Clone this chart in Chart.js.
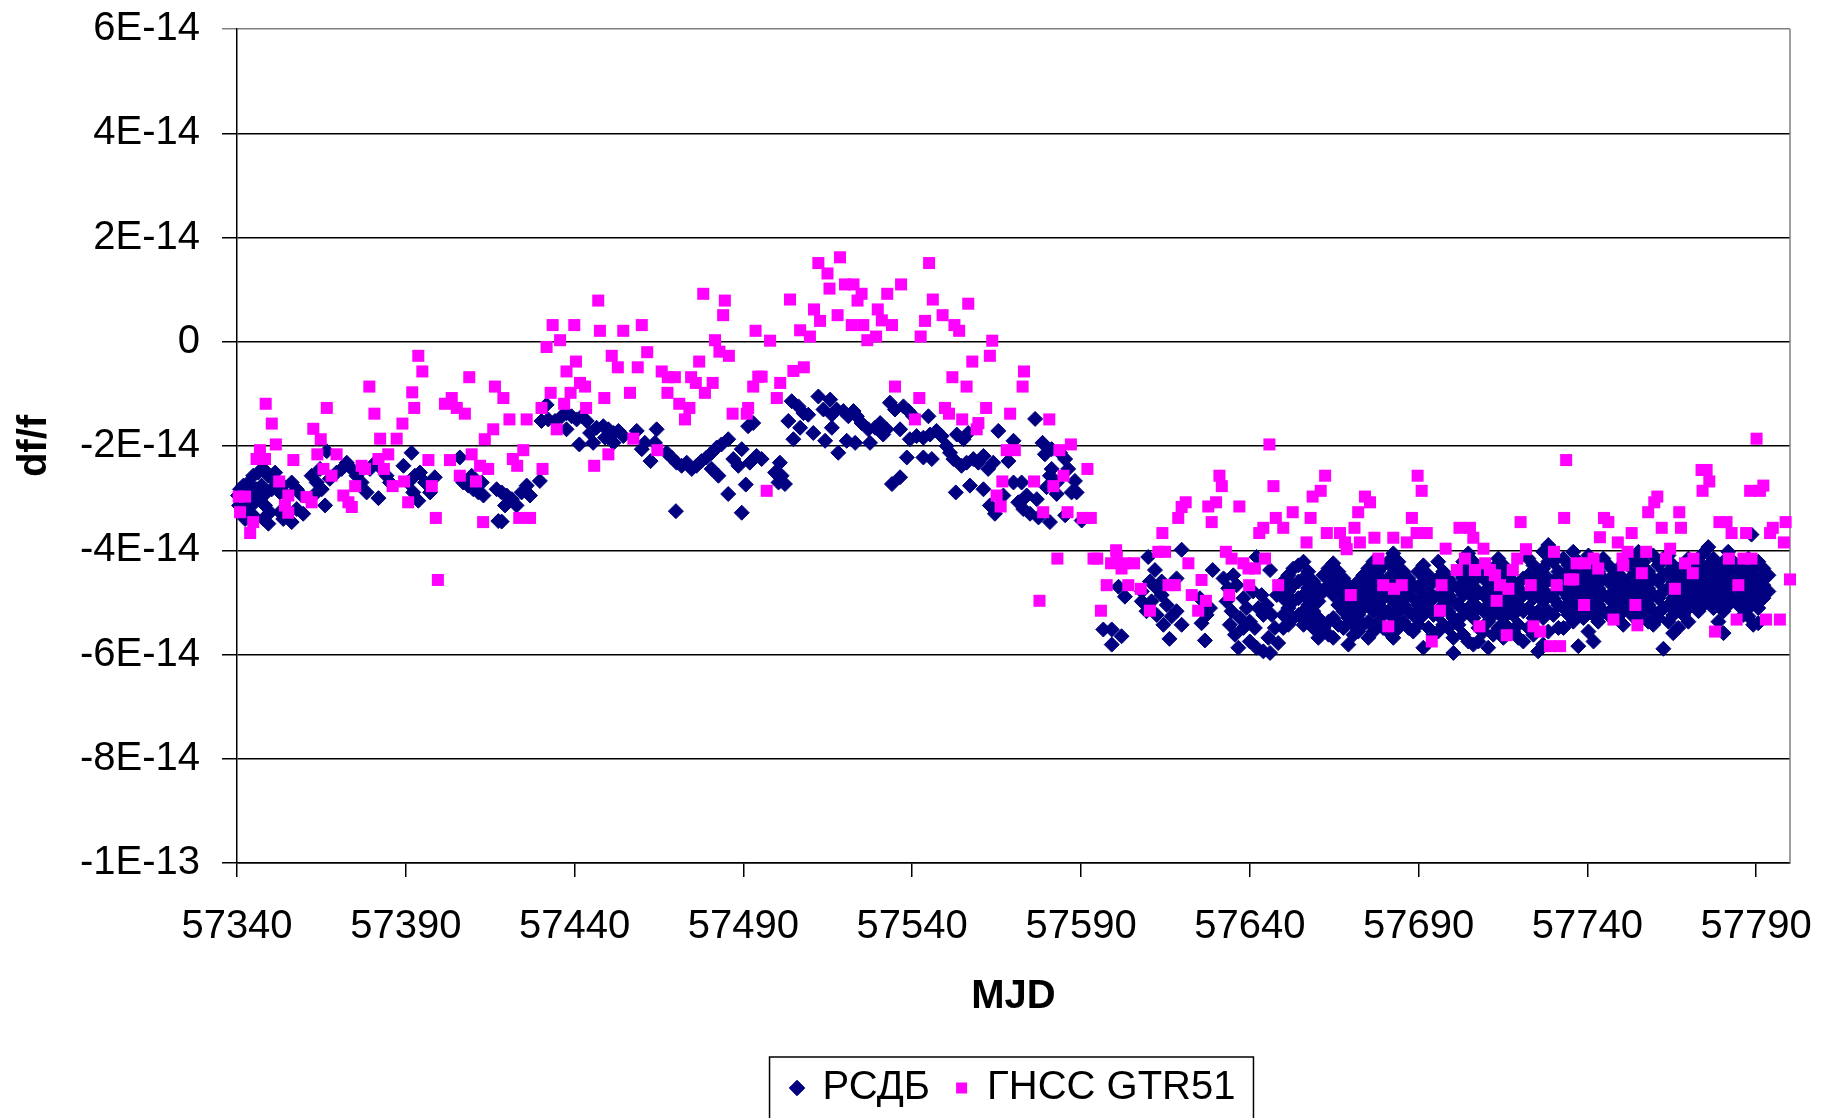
<!DOCTYPE html>
<html>
<head>
<meta charset="utf-8">
<script src="https://cdn.jsdelivr.net/npm/chart.js@4/dist/chart.umd.min.js"></script>
<style>
  html, body { margin: 0; padding: 0; background: #fff; }
</style>
</head>
<body>
<canvas id="chart" width="1822" height="1118"></canvas>
<script>
// legend names
var seriesNames = ['РСДБ', 'ГНСС GTR51'];

// axis ticks (x = MJD, y = df/f in units of 1E-14)
var xTicks = [57340, 57390, 57440, 57490, 57540, 57590, 57640, 57690, 57740, 57790];
var yTicks = [-10, -8, -6, -4, -2, 0, 2, 4, 6];
var yTickLabels = ['-1E-13', '-8E-14', '-6E-14', '-4E-14', '-2E-14', '0', '2E-14', '4E-14', '6E-14'];

// РСДБ, [MJD, df/f (E-14)]
var rsdbPoints = [
  [57340.3,-2.95],[57340.6,-3.14],[57340.9,-2.83],[57341.9,-2.76],[57343.4,-2.70],[57344.8,-2.57],[57346.3,-2.51],[57347.8,-2.44],
  [57349.3,-2.57],[57342.9,-2.95],[57344.3,-2.89],[57345.8,-2.83],[57347.3,-2.76],[57348.8,-2.89],[57350.3,-2.83],[57341.9,-3.21],
  [57343.4,-3.14],[57345.3,-3.08],[57346.8,-3.02],[57348.3,-3.14],[57349.8,-3.27],[57342.4,-3.40],[57344.8,-3.33],[57347.8,-3.40],
  [57349.3,-3.49],[57351.3,-2.51],[57351.7,-2.70],[57352.7,-2.89],[57353.7,-2.76],[57354.7,-2.95],[57356.2,-2.70],[57357.7,-2.83],
  [57359.2,-2.95],[57359.6,-3.30],[57356.2,-3.46],[57353.7,-3.40],[57357.7,-3.21],[57352.7,-3.27],[57362.1,-2.57],[57363.6,-2.70],
  [57365.1,-2.83],[57366.6,-2.10],[57366.1,-3.14],[57363.6,-2.89],[57364.6,-2.44],[57367.5,-2.63],[57369.5,-2.51],[57371.0,-2.44],
  [57372.5,-2.32],[57374.0,-2.44],[57375.4,-2.57],[57376.9,-2.70],[57378.4,-2.89],[57379.4,-2.44],[57380.9,-2.32],[57381.9,-3.00],
  [57382.9,-2.44],[57384.3,-2.57],[57385.3,-2.70],[57389.3,-2.38],[57391.7,-2.13],[57390.7,-2.70],[57392.7,-2.57],[57394.2,-2.51],
  [57395.7,-2.70],[57397.2,-2.89],[57398.6,-2.60],[57393.7,-3.05],[57392.2,-2.89],[57406.0,-2.22],[57407.0,-2.70],[57408.5,-2.76],
  [57410.0,-2.83],[57411.5,-2.89],[57413.0,-2.95],[57409.5,-2.57],[57412.5,-2.70],[57416.9,-2.83],[57417.4,-3.44],
  [57418.4,-2.89],[57419.9,-2.95],[57419.4,-3.14],[57421.4,-3.02],[57422.8,-3.14],[57424.3,-2.89],[57425.8,-2.76],[57426.8,-2.95],
  [57418.4,-3.45],[57429.7,-2.67],[57431.7,-1.21],[57430.2,-1.52],[57432.2,-1.49],[57434.2,-1.52],[57436.2,-1.43],[57437.6,-1.37],
  [57439.1,-1.43],[57440.6,-1.49],[57442.1,-1.43],[57443.6,-1.52],[57437.6,-1.68],[57441.4,-1.97],[57444.6,-1.75],[57446.5,-1.65],
  [57448.5,-1.62],[57450.0,-1.68],[57451.5,-1.75],[57453.0,-1.71],[57454.4,-1.81],[57449.0,-1.84],[57451.5,-1.94],[57445.5,-1.94],
  [57458.4,-1.71],[57459.9,-2.06],[57460.8,-1.94],[57462.5,-2.29],[57464.3,-1.68],[57463.8,-1.94],[57467.3,-2.13],[57468.7,-2.22],
  [57470.2,-2.32],[57471.7,-2.38],[57473.2,-2.32],[57474.7,-2.44],[57476.1,-2.38],[57477.6,-2.29],[57479.1,-2.22],[57480.6,-2.13],
  [57482.1,-2.03],[57483.5,-1.97],[57485.5,-1.87],[57480.6,-2.44],[57482.6,-2.57],[57470.0,-3.25],[57485.5,-2.92],[57489.5,-3.28],
  [57490.7,-2.74],[57489.5,-2.06],[57487.0,-2.25],[57488.5,-2.38],[57491.9,-2.32],[57493.9,-2.19],[57491.4,-1.62],[57492.9,-1.56],
  [57495.4,-2.25],[57499.4,-2.51],[57500.8,-2.32],[57501.3,-2.57],[57502.3,-2.73],[57500.4,-2.70],[57504.3,-1.14],[57503.3,-1.52],
  [57506.3,-1.24],[57507.8,-1.37],[57506.8,-1.65],[57504.8,-1.87],[57509.2,-1.40],[57510.7,-1.75],[57512.2,-1.05],[57513.7,-1.30],
  [57515.7,-1.11],[57516.2,-1.40],[57514.2,-1.90],[57516.2,-1.65],[57518.1,-2.13],[57517.6,-1.30],[57519.6,-1.33],[57521.1,-1.43],
  [57522.6,-1.33],[57523.6,-1.43],[57520.6,-1.90],[57523.1,-1.94],[57525.0,-1.56],[57527.5,-1.94],[57527.0,-1.68],[57529.0,-1.65],
  [57530.5,-1.56],[57531.4,-1.78],[57532.4,-1.68],[57533.4,-1.17],[57534.9,-1.30],[57536.4,-1.68],[57537.4,-1.24],[57538.9,-1.33],
  [57540.3,-1.43],[57544.8,-1.43],[57538.4,-2.22],[57539.3,-1.87],[57543.3,-2.22],[57545.8,-2.25],[57534.0,-2.73],[57536.4,-2.60],
  [57541.3,-1.81],[57543.3,-1.84],[57545.3,-1.78],[57547.2,-1.71],[57548.7,-1.81],[57550.2,-2.00],[57551.2,-2.13],[57552.2,-2.25],
  [57553.2,-1.78],[57555.2,-1.87],[57556.6,-1.75],[57554.6,-2.38],[57556.1,-2.32],[57558.1,-2.25],[57559.6,-2.32],[57561.1,-2.19],
  [57562.5,-2.44],[57564.0,-2.32],[57565.5,-1.71],[57568.5,-2.29],[57570.0,-1.90],[57557.1,-2.76],[57552.9,-2.89],[57561.1,-2.83],
  [57563.0,-3.14],[57564.5,-3.30],[57567.0,-2.95],[57570.0,-2.70],[57571.4,-3.08],
  [57572.4,-2.70],[57572.9,-3.02],[57576.4,-1.48],[57578.6,-1.94],[57579.3,-2.16],[57581.3,-2.06],[57583.8,-2.13],[57585.3,-2.25],
  [57581.3,-2.44],[57580.8,-2.57],[57582.8,-2.70],[57579.8,-2.79],[57582.8,-2.92],[57586.2,-2.44],[57588.2,-2.67],[57587.2,-2.89],
  [57588.7,-2.89],[57573.9,-2.95],[57571.9,-3.08],[57572.9,-3.21],[57574.9,-3.30],[57576.9,-3.02],[57577.4,-3.37],[57580.8,-3.46],
  [57585.3,-3.33],[57590.2,-3.43],[57596.6,-5.52],[57599.1,-5.52],[57599.1,-5.81],[57602.0,-5.65],[57601.1,-4.70],[57603.0,-4.89],
  [57609.9,-4.13],[57611.9,-4.38],[57610.4,-4.60],[57608.0,-4.79],[57608.0,-4.98],[57609.4,-5.17],[57610.9,-4.98],[57612.4,-4.73],
  [57613.9,-4.60],[57613.9,-4.86],[57615.4,-5.05],[57612.4,-5.24],[57614.4,-5.43],[57616.8,-5.27],[57618.3,-5.17],[57619.8,-5.43],
  [57616.2,-5.70],[57619.8,-3.99],[57618.3,-4.54],[57625.2,-4.92],[57625.7,-5.40],[57627.2,-5.24],[57628.2,-5.11],[57626.7,-5.73],
  [57629.0,-4.38],[57632.2,-4.54],[57633.6,-4.73],[57635.1,-4.48],[57636.1,-4.67],[57633.1,-4.98],[57634.6,-5.17],[57634.1,-5.43],
  [57635.6,-5.62],[57636.6,-5.87],[57638.1,-4.92],[57639.1,-5.11],[57640.0,-5.37],[57641.5,-5.49],[57642.0,-5.87],[57644.0,-5.94],
  [57646.0,-5.97],[57643.5,-4.86],[57645.0,-5.05],[57646.5,-5.24],[57644.0,-5.24],[57648.0,-4.86],[57647.4,-5.49],[57645.5,-5.68],
  [57642.0,-4.13],[57646.0,-4.38],[57640.0,-5.75],[57638.1,-5.49],[57648.4,-5.78],[57637.1,-5.30],[57642.5,-5.11],[57641.0,-4.79],
  [57788.6,-3.70]
];

// РСДБ dense stretch: [MJD, [df/f values stacked on that day]]
var rsdbColumns = [
  [57649.9,[-4.60,-4.92,-5.24,-5.49]],[57651.4,[-4.48,-4.79,-5.11,-5.43]],[57652.9,[-4.35,-4.67,-4.98,-5.30]],
  [57654.4,[-4.29,-4.60,-4.92,-5.24]],[57655.9,[-4.22,-4.54,-4.86,-5.17,-5.43]],[57657.3,[-4.41,-4.73,-5.05,-5.30]],
  [57658.8,[-4.60,-4.86,-5.17,-5.49]],[57660.3,[-4.73,-4.98,-5.30,-5.68]],[57661.8,[-4.48,-4.79,-5.49]],
  [57663.3,[-4.35,-4.67,-5.37,-5.62]],[57664.7,[-4.25,-4.54,-4.86,-5.30,-5.68]],[57666.2,[-4.41,-4.73,-5.05,-5.43]],
  [57667.7,[-4.54,-4.86,-5.17,-5.49]],[57669.2,[-4.67,-4.98,-5.30,-5.81]],[57670.7,[-4.79,-5.11,-5.43,-5.62]],
  [57672.1,[-4.60,-4.92,-5.24,-5.56]],[57673.6,[-4.48,-4.79,-5.11,-5.43]],[57675.1,[-4.35,-4.67,-4.98,-5.37,-5.68]],
  [57676.6,[-4.22,-4.54,-4.86,-5.17,-5.56]],[57678.1,[-4.41,-4.73,-5.05,-5.37]],[57679.5,[-4.29,-4.60,-4.92,-5.24,-5.49]],
  [57681.0,[-4.22,-4.54,-4.86,-5.17,-5.56]],[57682.5,[-4.06,-4.35,-4.67,-4.98,-5.30,-5.68]],[57684.0,[-4.22,-4.54,-4.86,-5.17,-5.49]],
  [57685.5,[-4.41,-4.73,-5.05,-5.37]],[57687.0,[-4.54,-4.86,-5.17,-5.49]],[57688.4,[-4.67,-4.92,-5.24,-5.56]],
  [57689.9,[-4.41,-4.73,-5.05,-5.43]],[57691.4,[-4.29,-4.60,-4.92,-5.24,-5.87]],[57692.9,[-4.48,-4.79,-5.11,-5.49]],
  [57694.4,[-4.60,-4.92,-5.24,-5.62]],[57695.8,[-4.22,-4.54,-4.86,-5.24,-5.56]],[57697.3,[-4.41,-4.73,-5.05,-5.43]],
  [57698.8,[-4.54,-4.86,-5.17,-5.49]],[57700.3,[-4.67,-4.98,-5.30,-5.68,-5.97]],[57701.8,[-4.41,-4.73,-5.05,-5.43]],
  [57703.2,[-4.22,-4.54,-4.86,-5.24,-5.62]],[57704.7,[-4.06,-4.41,-4.73,-5.11,-5.75]],[57706.2,[-4.22,-4.60,-4.92,-5.30,-5.81]],
  [57707.7,[-4.41,-4.79,-5.11,-5.49,-5.75]],[57709.2,[-4.54,-4.86,-5.17,-5.56]],[57710.6,[-4.73,-5.05,-5.37,-5.87]],
  [57712.1,[-4.35,-4.60,-4.92,-5.24,-5.62]],[57713.6,[-4.16,-4.48,-4.79,-5.11,-5.49]],[57715.1,[-4.29,-4.60,-4.92,-5.30,-5.68]],
  [57716.6,[-4.48,-4.79,-5.11,-5.49]],[57718.0,[-4.60,-4.92,-5.24,-5.56]],[57719.5,[-4.73,-5.05,-5.43,-5.68]],
  [57721.0,[-4.54,-4.86,-5.17,-5.75]],[57722.5,[-4.16,-4.48,-4.79,-5.11,-5.49]],[57724.0,[-4.29,-4.60,-4.92,-5.30,-5.62]],
  [57725.4,[-4.48,-4.79,-5.17,-5.94]],
  [57726.9,[-4.03,-4.35,-4.67,-4.98,-5.30,-5.81]],[57728.4,[-3.90,-4.22,-4.54,-4.86,-5.17,-5.56]],[57729.9,[-4.22,-4.60,-4.92,-5.24]],
  [57731.4,[-4.41,-4.73,-5.05,-5.49]],[57732.9,[-4.16,-4.48,-4.79,-5.11,-5.49]],[57734.4,[-4.29,-4.60,-4.92,-5.24]],
  [57735.8,[-4.03,-4.41,-4.73,-5.05,-5.37]],[57737.3,[-4.22,-4.54,-4.86,-5.17,-5.84]],[57738.8,[-4.35,-4.67,-4.98,-5.30]],
  [57740.3,[-4.10,-4.48,-4.79,-5.11,-5.56]],[57741.8,[-4.29,-4.60,-4.92,-5.24,-5.75]],[57743.2,[-4.41,-4.73,-5.05,-5.37]],
  [57744.7,[-4.16,-4.54,-4.86,-5.17]],[57746.2,[-4.29,-4.60,-4.92,-5.24]],[57747.7,[-4.48,-4.79,-5.11]],
  [57749.2,[-4.35,-4.67,-4.98,-5.24]],[57750.6,[-4.54,-4.86,-5.17,-5.43]],[57752.1,[-4.29,-4.67,-4.98]],
  [57753.6,[-4.16,-4.48,-4.79,-5.11,-5.27]],[57755.1,[-4.03,-4.35,-4.67,-4.98,-5.37]],[57756.6,[-4.22,-4.54,-4.86,-5.17]],
  [57758.0,[-4.41,-4.73,-5.05,-5.37]],[57759.5,[-4.10,-4.54,-4.86,-5.17,-5.43]],[57761.0,[-4.29,-4.60,-4.92,-5.30]],
  [57762.5,[-4.16,-4.48,-4.79,-5.11,-5.89]],[57764.0,[-4.10,-4.41,-4.73,-5.05,-5.37]],[57765.4,[-4.29,-4.60,-4.92,-5.24,-5.59]],
  [57766.9,[-4.48,-4.79,-5.11,-5.49]],[57768.4,[-4.29,-4.60,-4.92,-5.24]],[57769.9,[-4.16,-4.48,-4.79,-5.11,-5.37]],
  [57771.4,[-4.35,-4.67,-4.98]],[57772.9,[-4.22,-4.54,-4.86,-5.17]],[57774.3,[-4.06,-4.41,-4.73,-5.05]],
  [57775.8,[-3.94,-4.29,-4.60,-4.92]],[57777.3,[-4.16,-4.48,-4.79,-5.11]],[57778.8,[-4.35,-4.67,-4.98,-5.37]],
  [57780.3,[-4.22,-4.54,-4.86,-5.17,-5.59]],[57781.7,[-4.03,-4.41,-4.73,-5.05]],[57783.2,[-4.22,-4.60,-4.92]],
  [57784.7,[-4.41,-4.73,-5.05]],[57786.2,[-4.29,-4.60,-4.92,-5.24]],[57787.7,[-4.16,-4.48,-4.79,-5.11,-5.27]],
  [57789.1,[-4.35,-4.67,-4.98,-5.43]],[57790.6,[-4.22,-4.54,-4.86,-5.11,-5.40]],[57792.1,[-4.35,-4.67,-4.92]],
  [57793.6,[-4.48,-4.79]]
];

// ГНСС GTR51, [MJD, df/f (E-14)]
var gnssPoints = [
  [57348.5,-1.19],[57350.3,-1.57],[57351.5,-1.97],[57346.8,-2.08],[57345.8,-2.25],[57348.3,-2.25],[57356.7,-2.27],[57352.5,-2.68],
  [57340.5,-2.97],[57342.4,-2.97],[57340.9,-3.27],[57344.8,-3.46],[57343.9,-3.67],[57355.2,-2.95],[57354.2,-3.14],[57355.2,-3.28],
  [57360.6,-2.98],[57362.1,-3.08],[57362.6,-1.67],[57364.8,-1.87],[57366.6,-1.27],[57363.8,-2.16],[57365.6,-2.44],[57368.0,-2.57],
  [57369.5,-2.16],[57371.5,-2.95],[57373.0,-3.08],[57374.0,-3.17],[57375.0,-2.77],[57376.9,-2.38],[57377.9,-2.44],[57379.2,-0.86],
  [57380.7,-1.38],[57382.4,-1.86],[57381.9,-2.25],[57383.5,-2.44],[57384.8,-2.16],[57386.1,-2.77],[57387.3,-1.86],[57389.0,-1.57],
  [57389.5,-2.68],[57390.7,-3.08],[57391.9,-0.97],[57392.5,-1.27],[57393.7,-0.27],[57394.9,-0.57],[57396.7,-2.27],[57397.7,-2.77],
  [57398.9,-3.38],[57399.5,-4.57],[57401.6,-1.19],[57403.6,-1.08],[57405.1,-1.27],[57407.5,-1.38],[57408.8,-0.68],[57403.1,-2.27],
  [57406.0,-2.57],[57409.5,-2.16],[57410.8,-2.68],[57412.0,-2.38],[57414.4,-2.44],[57413.4,-1.87],[57415.9,-1.68],[57416.4,-0.86],
  [57412.9,-3.46],
  [57418.9,-1.08],[57420.7,-1.49],[57425.8,-1.49],[57424.8,-2.08],[57421.7,-2.25],[57423.0,-2.38],[57430.5,-2.44],[57423.6,-3.38],
  [57426.8,-3.38],[57430.2,-1.27],[57431.7,-0.10],[57433.5,0.32],[57435.7,0.03],[57439.9,0.32],[57437.6,-0.57],[57440.4,-0.38],
  [57432.9,-0.98],[57438.8,-0.98],[57436.9,-1.19],[57441.6,-0.79],[57443.1,-0.86],[57443.4,-1.27],[57434.7,-1.68],[57447.0,0.79],
  [57447.5,0.21],[57448.8,-1.08],[57451.0,-0.27],[57452.8,-0.49],[57454.4,0.21],[57459.9,0.32],[57461.5,-0.20],[57458.7,-0.49],
  [57456.4,-0.98],[57445.8,-2.38],[57450.0,-2.16],[57457.4,-1.86],[57464.5,-2.08],[57465.8,-0.57],[57467.6,-0.68],[57469.7,-0.68],
  [57467.5,-0.98],[57471.0,-1.19],[57474.0,-1.27],[57472.7,-1.49],[57474.5,-0.68],[57475.9,-0.79],[57476.9,-0.38],[57478.6,-0.98],
  [57480.9,-0.79],[57478.1,0.92],[57484.5,0.79],[57484.0,0.51],[57481.6,0.03],[57482.9,-0.19],[57485.7,-0.27],[57486.8,-1.38],
  [57491.0,-1.38],[57491.4,-1.27],[57492.9,-0.86],[57493.6,0.21],[57494.4,-0.67],
  [57497.9,0.02],[57495.4,-0.67],[57500.9,-0.79],[57499.9,-1.08],[57503.8,0.81],[57504.8,-0.56],[57507.9,-0.49],[57506.8,0.22],
  [57509.7,0.10],[57510.9,0.62],[57512.7,0.40],[57512.2,1.51],[57514.9,1.31],[57515.5,1.02],[57518.6,1.62],[57517.9,0.51],
  [57520.1,1.10],[57522.6,1.10],[57525.0,0.92],[57523.8,0.79],[57522.1,0.32],[57525.5,0.32],[57526.7,0.03],[57529.3,0.10],
  [57529.8,0.62],[57531.0,0.41],[57534.0,0.32],[57532.6,0.92],[57536.7,1.10],[57534.9,-0.86],[57542.1,-1.08],[57542.5,0.10],
  [57543.8,0.40],[57545.0,1.51],[57546.1,0.81],[57549.0,0.51],[57552.5,0.32],[57553.9,0.21],[57556.6,0.73],[57540.8,-1.49],
  [57549.7,-1.27],[57550.9,-1.38],[57551.9,-0.68],[57554.8,-1.49],[57556.1,-0.86],[57557.8,-0.38],[57559.1,-1.68],[57559.6,-1.56],
  [57561.9,-1.27],[57563.0,-0.27],[57563.7,0.02],[57569.0,-1.38],[57568.0,-2.08],[57570.4,-2.08],[57566.7,-2.68],[57565.0,-2.95],
  [57566.2,-3.16],[57496.9,-2.86],
  [57573.1,-0.57],[57572.7,-0.86],[57580.6,-1.49],[57583.6,-2.08],[57587.0,-1.97],[57591.9,-2.44],[57576.1,-2.68],[57584.8,-2.57],
  [57581.8,-2.77],[57578.8,-3.27],[57586.0,-3.27],[57590.5,-3.38],[57592.9,-3.38],[57583.0,-4.16],[57577.7,-4.97],[57593.7,-4.16],
  [57594.8,-4.16],[57595.9,-5.16],[57597.6,-4.67],[57598.9,-4.25],[57600.4,-4.00],[57600.6,-4.13],[57602.0,-4.35],[57603.0,-4.25],
  [57605.7,-4.25],[57604.0,-4.67],[57607.7,-4.74],[57610.4,-5.16],[57614.1,-3.67],[57612.9,-4.03],[57614.9,-4.03],[57615.9,-4.67],
  [57617.8,-4.67],[57618.8,-3.38],[57619.8,-3.17],[57621.0,-3.08],[57621.8,-4.25],[57622.8,-4.86],[57624.7,-5.16],[57625.7,-4.57],
  [57627.0,-4.97],[57627.7,-3.16],[57628.7,-3.46],[57630.0,-3.08],[57631.0,-2.57],[57631.7,-2.77],[57632.9,-4.03],[57633.9,-4.86],
  [57634.6,-4.16],[57636.9,-3.16],[57638.1,-4.25],[57639.6,-4.35],[57639.8,-4.67],[57641.5,-4.35],[57642.8,-3.67],[57644.0,-3.57],
  [57644.5,-4.16],[57645.8,-1.97],[57647.0,-2.77],[57647.7,-3.38],[57648.4,-4.67],
  [57649.9,-3.57],[57652.7,-3.27],[57656.8,-3.85],[57658.0,-3.38],[57658.6,-2.97],[57661.0,-2.86],[57662.3,-2.57],[57662.8,-3.67],
  [57666.7,-3.67],[57668.2,-3.85],[57668.7,-3.98],[57669.9,-4.86],[57671.0,-3.57],[57672.1,-3.27],[57672.6,-3.85],[57674.1,-2.97],
  [57675.6,-3.08],[57676.9,-3.76],[57678.1,-4.16],[57679.5,-4.67],[57681.0,-5.46],[57682.5,-3.76],[57682.7,-4.74],[57685.0,-4.67],
  [57686.5,-3.85],[57688.0,-3.38],[57689.7,-2.57],[57690.9,-2.86],[57689.4,-3.67],[57692.4,-3.67],[57693.9,-5.75],[57696.3,-5.16],
  [57696.8,-4.67],[57698.0,-3.97],[57701.3,-4.38],[57702.1,-3.57],[57703.7,-4.16],[57705.2,-3.57],[57706.2,-3.76],[57706.7,-4.38],
  [57708.0,-5.46],[57709.2,-3.97],[57709.7,-4.25],[57711.1,-4.38],[57712.6,-4.48],[57713.1,-4.97],[57714.1,-4.67],[57716.1,-5.63],
  [57716.6,-4.74],[57717.9,-4.38],[57719.2,-4.16],[57720.2,-3.46],[57721.8,-3.98],[57723.2,-4.67],[57724.0,-5.46],
  [57733.7,-2.27],[57733.1,-3.38],[57730.1,-4.03],[57730.9,-4.67],[57735.8,-4.56],[57734.8,-4.56],[57736.8,-4.25],[57739.3,-4.25],
  [57741.8,-4.16],[57743.2,-4.35],[57739.0,-5.05],[57726.0,-5.56],[57728.9,-5.84],[57731.9,-5.84],[57743.7,-3.75],[57744.9,-3.38],
  [57746.2,-3.46],[57747.7,-5.33],[57749.0,-3.85],[57750.4,-4.16],[57750.6,-4.29],[57751.9,-4.03],[57753.1,-3.67],[57754.2,-5.05],
  [57754.8,-5.44],[57756.1,-4.44],[57757.4,-4.03],[57758.0,-3.27],[57759.8,-3.08],[57760.7,-2.97],[57762.0,-3.57],[57763.3,-4.16],
  [57764.5,-3.97],[57765.9,-4.74],[57767.2,-3.27],[57767.7,-3.57],[57768.9,-4.25],[57771.4,-4.16],[57771.2,-4.44],[57773.8,-2.46],
  [57775.3,-2.46],[57776.1,-2.68],[57774.1,-2.86],[57777.8,-5.56],[57779.1,-3.46],[57781.2,-3.46],[57782.7,-3.67],[57781.9,-4.16],
  [57784.2,-5.33],[57784.7,-4.67],[57786.2,-4.16],[57787.0,-3.67],[57788.6,-4.16],[57788.2,-2.86],[57790.1,-1.86],[57791.1,-2.86],
  [57792.1,-2.76],[57792.9,-5.33],[57794.1,-3.67],[57794.9,-3.57],[57797.0,-5.33],[57798.2,-3.85],[57798.7,-3.46],[57800.0,-4.56]
];

// flatten into {x, y} for Chart.js
var rsdbData = rsdbPoints.map(p => ({ x: p[0], y: p[1] }));
rsdbColumns.forEach(c => c[1].forEach(v => rsdbData.push({ x: c[0], y: v })));
var gnssData = gnssPoints.map(p => ({ x: p[0], y: p[1] }));

Chart.defaults.font.family = "'Liberation Sans', Arial, sans-serif";
Chart.defaults.color = '#000';

// grey right edge of the plot area and the box round the legend
var framePlugin = {
  id: 'frame',
  beforeDatasetsDraw(chart) {
    var ctx = chart.ctx, a = chart.chartArea;
    ctx.save();
    ctx.strokeStyle = '#808080';
    ctx.lineWidth = 1.5;
    ctx.beginPath();
    ctx.moveTo(a.right, a.top);
    ctx.lineTo(a.right, a.bottom);
    ctx.stroke();
    ctx.restore();
  },
  afterDraw(chart) {
    var hb = chart.legend.legendHitBoxes;
    if (!hb || !hb.length) return;
    var ctx = chart.ctx;
    var first = hb[0], last = hb[hb.length - 1];
    var left = first.left - 22;
    var right = last.left + last.width + 18;
    var top = first.top - 11;
    ctx.save();
    ctx.strokeStyle = '#000';
    ctx.lineWidth = 1.5;
    ctx.strokeRect(left, top, right - left, chart.height - top + 20);
    ctx.restore();
  }
};

new Chart(document.getElementById('chart'), {
  type: 'scatter',
  data: {
    datasets: [{
      label: seriesNames[0],
      data: rsdbData,
      pointStyle: 'rectRot',
      pointRadius: 7.5,
      backgroundColor: '#000080',
      borderColor: '#000080',
      borderWidth: 1,
      order: 2,
      clip: false
    }, {
      label: seriesNames[1],
      data: gnssData,
      pointStyle: 'rect',
      pointRadius: 8.5,
      backgroundColor: '#FF00FF',
      borderColor: '#FF00FF',
      borderWidth: 0,
      order: 1,
      clip: false
    }]
  },
  options: {
    responsive: false,
    animation: false,
    events: [],
    layout: { padding: { top: 29, right: 32, bottom: 0, left: 0 } },
    plugins: {
      tooltip: { enabled: false },
      legend: {
        position: 'bottom',
        fullSize: false,
        labels: {
          usePointStyle: true, boxWidth: 11, boxHeight: 11, padding: 26, color: '#000', font: { size: 40 },
          sort: (a, b) => a.datasetIndex - b.datasetIndex
        }
      }
    },
    scales: {
      x: {
        type: 'linear',
        min: 57340,
        max: 57800,
        afterBuildTicks: s => { s.ticks = xTicks.map(v => ({ value: v })); },
        afterFit: s => { s.height = 179; s.paddingLeft = 0; s.paddingRight = 0; },
        grid: { drawOnChartArea: false, drawTicks: true, tickLength: 14, color: '#000', lineWidth: 1.5 },
        border: { color: '#000', width: 1.5 },
        ticks: { padding: 26, font: { size: 40 }, maxRotation: 0, autoSkip: false, callback: v => String(v) },
        title: { display: true, text: 'MJD', font: { size: 40, weight: 'bold' }, padding: { top: 0, bottom: 21 } }
      },
      y: {
        min: -10,
        max: 6,
        afterBuildTicks: s => { s.ticks = yTicks.map(v => ({ value: v })); },
        afterFit: s => { s.width = 237; s.paddingTop = 0; s.paddingBottom = 0; },
        grid: {
          color: c => (c.tick && c.tick.value === 6) ? '#808080' : '#000',
          lineWidth: 1.5,
          tickLength: 15
        },
        border: { color: '#000', width: 1.5 },
        ticks: { padding: 22, font: { size: 40 }, callback: v => yTickLabels[yTicks.indexOf(v)] },
        title: { display: true, text: 'df/f', font: { size: 40, weight: 'bold' }, padding: { top: 11, bottom: 0 } }
      }
    }
  },
  plugins: [framePlugin]
});
</script>
</body>
</html>
